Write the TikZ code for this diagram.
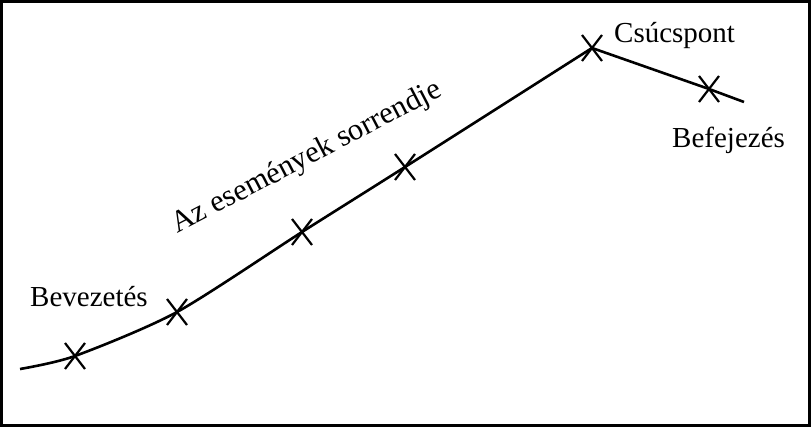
\documentclass[tikz,border=0pt]{standalone}
\usepackage{fontspec}
\setmainfont{Liberation Serif}
\usetikzlibrary{calc}
\begin{document}
\begin{tikzpicture}[x=1pt,y=-1pt,
  curve/.style={line width=2.6pt,line join=round},
  xmark/.style={line width=2.2pt},
  lbl/.style={inner sep=0pt,font=\fontsize{29}{34}\selectfont}]
\useasboundingbox (0,0) rectangle (811,427);
\draw[line width=3pt] (1.5,1.5) rectangle (809.5,425.5);
\coordinate (s) at (20,369);
\coordinate (p1) at (75,356);
\coordinate (p2) at (177,312);
\coordinate (p3) at (302,232);
\coordinate (p4) at (405,167);
\coordinate (pk) at (592,48);
\coordinate (p6) at (709,89);
\coordinate (e) at (744,102);
\draw[curve] plot[smooth,tension=0.45] coordinates {(s)(p1)(p2)(p3)(p4)(pk)} -- (p6) -- (e);
\foreach \p in {p1,p2,p3,p4,pk,p6}{
  \draw[xmark] ($(\p)+(-10,-13)$) -- ($(\p)+(10,13)$);
  \draw[xmark] ($(\p)+(10,-13)$) -- ($(\p)+(-10,13)$);
}
\node[lbl,anchor=base west] (bev) at (30,307) {Bevezetés};
\node[lbl,anchor=base west] (csu) at (614,43) {Csúcspont};
\node[lbl,anchor=base west] (bef) at (672,148) {Befejezés};
\node[lbl,anchor=base west,rotate=27.5,font=\fontsize{30.5}{36}\selectfont] (az) at (177,234) {Az események sorrendje};
\end{tikzpicture}
\end{document}
